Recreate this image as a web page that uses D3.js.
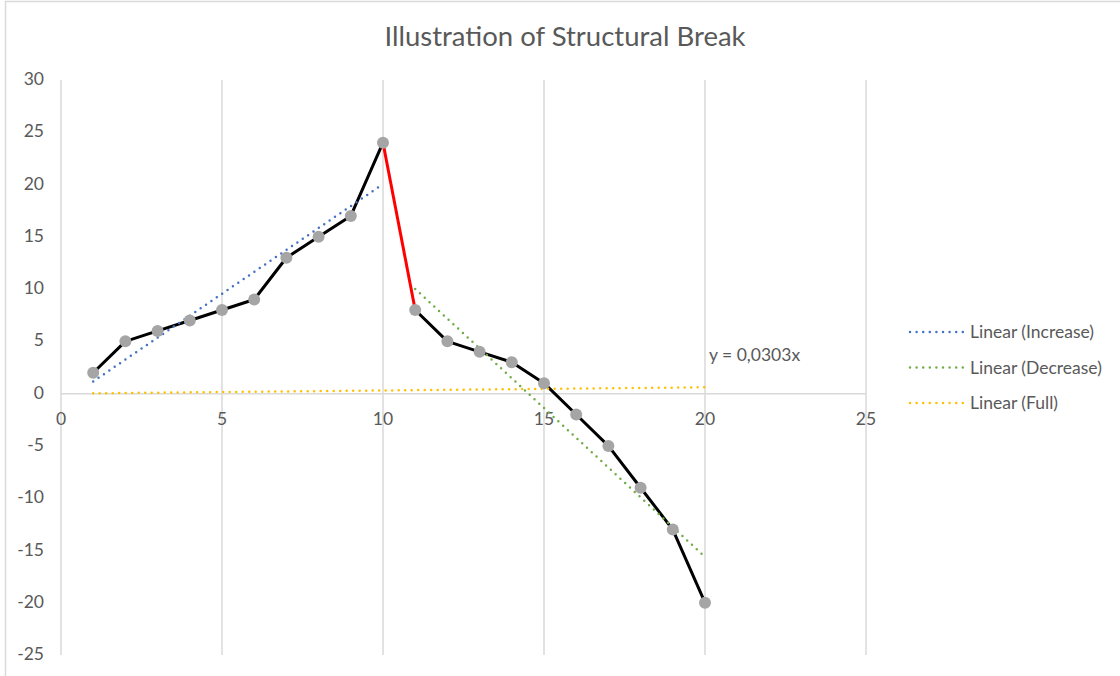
<!DOCTYPE html>
<html>
<head>
<meta charset="utf-8">
<script src="https://cdn.jsdelivr.net/npm/d3@7"></script>
<style>
  html, body { margin: 0; padding: 0; background: #fff; }
  svg { display: block; }
  text { font-family: Lato, "Open Sans", sans-serif; fill: #595959; }
</style>
</head>
<body>
<svg id="chart" width="1120" height="676"></svg>
<script>
// Observations 1..20: a rising regime, then a falling regime after the break
const xValues = [1, 2, 3, 4, 5, 6, 7, 8, 9, 10, 11, 12, 13, 14, 15, 16, 17, 18, 19, 20];
const yValues = [2, 5, 6, 7, 8, 9, 13, 15, 17, 24, 8, 5, 4, 3, 1, -2, -5, -9, -13, -20];
const increaseIdx = [0, 1, 2, 3, 4, 5, 6, 7, 8, 9];
const decreaseIdx = [10, 11, 12, 13, 14, 15, 16, 17, 18, 19];
const breakIdx = [9, 10];
const xTicks = [0, 5, 10, 15, 20, 25];
const yTicks = [30, 25, 20, 15, 10, 5, 0, -5, -10, -15, -20, -25];
const legendLabels = ["Linear (Increase)", "Linear (Decrease)", "Linear (Full)"];
const trendColors = ["#4472C4", "#70AD47", "#FFC000"];
const titleText = "Illustration of Structural Break";
const fullEquation = "y = 0,0303x";

const svg = d3.select("#chart");

// chart area border
svg.append("rect")
  .attr("x", 5.5).attr("y", 1.5).attr("width", 1200).attr("height", 800)
  .attr("fill", "none").attr("stroke", "#d9d9d9").attr("stroke-width", 1.5);

const x = d3.scaleLinear().domain([0, 25]).range([61, 866]);
const y = d3.scaleLinear().domain([-25, 30]).range([655, 80]);

// title
svg.append("text")
  .attr("x", 565).attr("y", 46)
  .attr("text-anchor", "middle")
  .attr("font-size", 27.5)
  .text(titleText);

// vertical gridlines
svg.append("g").selectAll("line").data(xTicks).join("line")
  .attr("x1", d => x(d)).attr("x2", d => x(d))
  .attr("y1", y(30)).attr("y2", y(-25))
  .attr("stroke", "#d9d9d9").attr("stroke-width", 1.5);

// horizontal axis at zero
svg.append("line")
  .attr("x1", x(0)).attr("x2", x(25))
  .attr("y1", y(0)).attr("y2", y(0))
  .attr("stroke", "#d9d9d9").attr("stroke-width", 1.5);

// y tick labels
svg.append("g").selectAll("text").data(yTicks).join("text")
  .attr("x", 44).attr("y", d => y(d) - 1)
  .attr("dy", "0.35em")
  .attr("text-anchor", "end")
  .attr("font-size", 17.5)
  .text(d => d);

// x tick labels, sitting just under the zero line
svg.append("g").selectAll("text").data(xTicks).join("text")
  .attr("x", d => x(d)).attr("y", y(0) + 25)
  .attr("dy", "0.35em")
  .attr("text-anchor", "middle")
  .attr("font-size", 17.5)
  .text(d => d);

const pts = xValues.map((xv, i) => ({ x: xv, y: yValues[i] }));
const line = d3.line().x(d => x(d.x)).y(d => y(d.y));

// least-squares fit; origin=true forces the intercept to zero
function fit(points, origin) {
  if (origin) {
    const sxy = d3.sum(points, p => p.x * p.y);
    const sxx = d3.sum(points, p => p.x * p.x);
    return { a: 0, b: sxy / sxx };
  }
  const mx = d3.mean(points, p => p.x), my = d3.mean(points, p => p.y);
  const sxy = d3.sum(points, p => (p.x - mx) * (p.y - my));
  const sxx = d3.sum(points, p => (p.x - mx) ** 2);
  const b = sxy / sxx;
  return { a: my - b * mx, b };
}

const incPts = increaseIdx.map(i => pts[i]);
const decPts = decreaseIdx.map(i => pts[i]);
const groups = [incPts, decPts, pts];
const fits = [fit(incPts, false), fit(decPts, false), fit(pts, true)];

// data lines
svg.append("path").datum(incPts).attr("d", line)
  .attr("fill", "none").attr("stroke", "#000").attr("stroke-width", 3).attr("stroke-linejoin", "round");
svg.append("path").datum(decPts).attr("d", line)
  .attr("fill", "none").attr("stroke", "#000").attr("stroke-width", 3).attr("stroke-linejoin", "round");
svg.append("path").datum(breakIdx.map(i => pts[i])).attr("d", line)
  .attr("fill", "none").attr("stroke", "#FF0000").attr("stroke-width", 3);

// trendlines
groups.forEach((g, k) => {
  const x0 = d3.min(g, p => p.x), x1 = d3.max(g, p => p.x);
  const f = fits[k];
  svg.append("line")
    .attr("x1", x(x0)).attr("y1", y(f.a + f.b * x0))
    .attr("x2", x(x1)).attr("y2", y(f.a + f.b * x1))
    .attr("stroke", trendColors[k]).attr("stroke-width", 2.5)
    .attr("stroke-linecap", "round").attr("stroke-dasharray", "0 6.5");
});

// markers
svg.append("g").selectAll("circle").data(pts).join("circle")
  .attr("cx", d => x(d.x)).attr("cy", d => y(d.y)).attr("r", 6)
  .attr("fill", "#A5A5A5");

// equation label for the full-sample trendline
svg.append("text")
  .attr("x", 709).attr("y", 355)
  .attr("dy", "0.35em")
  .attr("font-size", 17.5)
  .text(fullEquation);

// legend
const legend = svg.append("g");
legendLabels.forEach((lab, k) => {
  const ly = 332 + k * 35.5;
  legend.append("line")
    .attr("x1", 910).attr("x2", 963).attr("y1", ly).attr("y2", ly)
    .attr("stroke", trendColors[k]).attr("stroke-width", 2.5)
    .attr("stroke-linecap", "round").attr("stroke-dasharray", "0 6.6");
  legend.append("text")
    .attr("x", 970).attr("y", ly).attr("dy", "0.35em")
    .attr("font-size", 17.5)
    .text(lab);
});
</script>
</body>
</html>
